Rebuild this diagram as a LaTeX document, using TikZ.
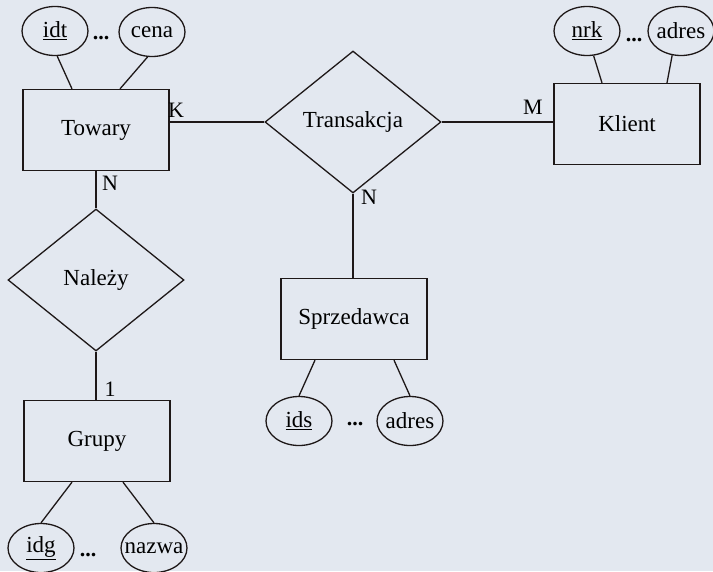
\documentclass[tikz,border=0pt]{standalone}
\usepackage{fontspec}
\setmainfont{Liberation Serif}
\usepackage{xcolor}
\usepackage{tikz}
\usetikzlibrary{shapes.geometric, positioning, calc}
\definecolor{paperbg}{RGB}{227, 232, 240}
\definecolor{inkline}{RGB}{30, 24, 24}
\tikzset{
    entitybox/.style={
        draw=inkline, line width=1.3pt, minimum width=146pt, minimum height=81pt,
        font=\fontsize{23}{26}\selectfont
    },
    relbox/.style={
        diamond, draw=inkline, line width=1.3pt, inner sep=0pt,
        minimum width=176pt, minimum height=142pt, font=\fontsize{23}{26}\selectfont
    },
    attrnode/.style={
        ellipse, draw=inkline, line width=1.3pt, inner sep=0pt,
        minimum width=66pt, minimum height=49pt, font=\fontsize{23}{26}\selectfont
    },
    cardlabel/.style={
        font=\fontsize{22}{24}\selectfont, inner sep=0pt
    },
    dotslabel/.style={
        font=\fontsize{22}{24}\selectfont\bfseries, inner sep=0pt
    },
    conn/.style={draw=inkline, line width=1.3pt}
}
% tekst atrybutu o stalej szerokosci (elipsy rowne)
\newcommand{\attrlabel}[1]{\makebox[44pt]{#1}}

\begin{document}
\begin{tikzpicture}[x=1pt, y=-1pt]
    % --- TLO ---
    \fill[paperbg] (0,0) rectangle (713,571);
    \useasboundingbox (0,0) rectangle (713,571);

    % --- ENCJE ---
    \node[entitybox] (towary) at (96,130) {Towary};
    \node[entitybox] (klient) at (627,124) {Klient};
    \node[entitybox] (grupy) at (97,441) {Grupy};
    \node[entitybox] (sprzedawca) at (354,319) {Sprzedawca};

    % --- ZWIAZKI ---
    \node[relbox] (transakcja) at (353,122) {Transakcja};
    \node[relbox] (nalezy) at (96,280) {Należy};

    % --- ATRYBUTY ---
    \node[attrnode] (idt) at (55,31) {\attrlabel{\underline{idt}}};
    \node[attrnode] (cena) at (152,32) {\attrlabel{cena}};
    \node[dotslabel] (dotsT) at (101,38) {...};

    \node[attrnode] (nrk) at (587,31) {\attrlabel{\underline{nrk}}};
    \node[attrnode] (adresK) at (681,31) {\attrlabel{adres}};
    \node[dotslabel] (dotsK) at (634,40) {...};

    \node[attrnode] (ids) at (299,421) {\attrlabel{\underline{ids}}};
    \node[attrnode] (adresS) at (410,421) {\attrlabel{adres}};
    \node[dotslabel] (dotsS) at (355,424) {...};

    \node[attrnode] (idg) at (41,548) {\attrlabel{\underline{idg}}};
    \node[attrnode] (nazwa) at (154,548) {\attrlabel{nazwa}};
    \node[dotslabel] (dotsG) at (88,555) {...};

    % --- POLACZENIA ---
    \draw[conn] (transakcja.west) -- (transakcja.west -| towary.east);
    \draw[conn] (transakcja.east) -- (transakcja.east -| klient.west);
    \draw[conn] (transakcja.south) -- (transakcja.south |- sprzedawca.north);
    \draw[conn] (towary.south) -- (nalezy.north);
    \draw[conn] (nalezy.south) -- (nalezy.south |- grupy.north);

    \draw[conn] (idt.-85) -- ([xshift=-24pt]towary.north);
    \draw[conn] (cena.-100) -- ([xshift=24pt]towary.north);
    \draw[conn] (nrk.-75) -- ([xshift=-25pt]klient.north);
    \draw[conn] (adresK.-110) -- ([xshift=40pt]klient.north);
    \draw[conn] ([xshift=-39pt]sprzedawca.south) -- (ids.north);
    \draw[conn] ([xshift=40pt]sprzedawca.south) -- (adresS.north);
    \draw[conn] ([xshift=-25pt]grupy.south) -- (idg.north);
    \draw[conn] ([xshift=26pt]grupy.south) -- (nazwa.north);

    % --- KRAWEDZIE (liczebnosci) ---
    \node[cardlabel] (cardK) at (176,110) {K};
    \node[cardlabel] (cardM) at (533,107) {M};
    \node[cardlabel] (cardN1) at (110,183) {N};
    \node[cardlabel] (cardN2) at (369,197) {N};
    \node[cardlabel] (card1) at (110,389) {1};
\end{tikzpicture}
\end{document}
